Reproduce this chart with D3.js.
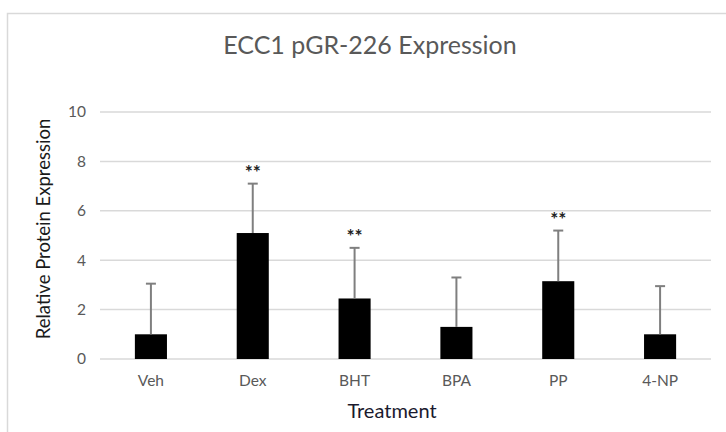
<!DOCTYPE html>
<html>
<head>
<meta charset="utf-8">
<script src="https://cdn.jsdelivr.net/npm/d3@7"></script>
<style>
  body { margin: 0; background: #fff; }
  svg { display: block; font-family: Lato, "Open Sans", sans-serif; }
</style>
</head>
<body>
<svg id="chart"></svg>
<script>
// data
const categories = ["Veh", "Dex", "BHT", "BPA", "PP", "4-NP"];
const means = [1.0, 5.1, 2.45, 1.3, 3.15, 1.0];
const errors = [2.05, 2.0, 2.05, 2.0, 2.05, 1.95];
const marks = ["", "**", "**", "", "**", ""];
const yTicks = [0, 2, 4, 6, 8, 10];

const width = 726;
const height = 432;

const svg = d3.select("#chart")
    .attr("width", width)
    .attr("height", height);

// chart area frame (only the left and top edges show)
svg.append("path")
    .attr("d", "M7.5,432 V13.5 H726")
    .attr("fill", "none")
    .attr("stroke", "#d9d9d9")
    .attr("stroke-width", 1.5);

const x = d3.scaleBand()
    .domain(categories)
    .range([100, 711])
    .paddingInner(0.685)
    .paddingOuter(0.3425);

const y = d3.scaleLinear()
    .domain([0, 10])
    .range([359, 112]);

// gridlines
svg.append("g")
    .selectAll("line")
    .data(yTicks)
    .enter()
    .append("line")
    .attr("x1", 100)
    .attr("x2", 711)
    .attr("y1", d => y(d))
    .attr("y2", d => y(d))
    .attr("stroke", "#d9d9d9")
    .attr("stroke-width", 1.5);

// y axis labels
const yAxis = svg.append("g")
    .attr("transform", "translate(100,0)")
    .call(d3.axisLeft(y).tickValues(yTicks).tickSize(0).tickPadding(14));
yAxis.select(".domain").remove();
yAxis.selectAll("text")
    .attr("fill", "#595959")
    .style("font-size", "15.5px")
    .style("font-family", "Lato, sans-serif");

// x axis labels
const xAxis = svg.append("g")
    .attr("transform", "translate(0,359)")
    .call(d3.axisBottom(x).tickSize(0).tickPadding(16));
xAxis.select(".domain").remove();
xAxis.selectAll("text")
    .attr("fill", "#595959")
    .style("font-size", "15.5px")
    .style("font-family", "Lato, sans-serif");

const rows = categories.map((c, i) => ({ cat: c, mean: means[i], err: errors[i], mark: marks[i] }));

// bars
svg.append("g")
    .selectAll("rect")
    .data(rows)
    .enter()
    .append("rect")
    .attr("x", d => x(d.cat))
    .attr("y", d => y(d.mean))
    .attr("width", x.bandwidth())
    .attr("height", d => y(0) - y(d.mean))
    .attr("fill", "#000");

// error bars (upper only)
const err = svg.append("g")
    .attr("stroke", "#7f7f7f")
    .attr("stroke-width", 2);

err.selectAll(".stem")
    .data(rows)
    .enter()
    .append("line")
    .attr("class", "stem")
    .attr("x1", d => x(d.cat) + x.bandwidth() / 2)
    .attr("x2", d => x(d.cat) + x.bandwidth() / 2)
    .attr("y1", d => y(d.mean))
    .attr("y2", d => y(d.mean + d.err));

err.selectAll(".cap")
    .data(rows)
    .enter()
    .append("line")
    .attr("class", "cap")
    .attr("x1", d => x(d.cat) + x.bandwidth() / 2 - 5)
    .attr("x2", d => x(d.cat) + x.bandwidth() / 2 + 5)
    .attr("y1", d => y(d.mean + d.err))
    .attr("y2", d => y(d.mean + d.err));

// significance marks
svg.append("g")
    .selectAll("text")
    .data(rows.filter(d => d.mark))
    .enter()
    .append("text")
    .attr("x", d => x(d.cat) + x.bandwidth() / 2)
    .attr("y", d => y(d.mean + d.err) - 5)
    .attr("text-anchor", "middle")
    .attr("fill", "#222")
    .style("font-size", "19px")
    .style("font-weight", "bold")
    .text(d => d.mark);

// titles
svg.append("text")
    .attr("x", 370)
    .attr("y", 54)
    .attr("text-anchor", "middle")
    .attr("fill", "#595959")
    .style("font-size", "25px")
    .text("ECC1 pGR-226 Expression");

svg.append("text")
    .attr("x", 392)
    .attr("y", 418)
    .attr("text-anchor", "middle")
    .attr("fill", "#1a1a2e")
    .style("font-size", "20px")
    .text("Treatment");

svg.append("text")
    .attr("transform", "translate(50,229) rotate(-90)")
    .attr("text-anchor", "middle")
    .attr("fill", "#1a1a1a")
    .style("font-size", "18.5px")
    .text("Relative Protein Expression");
</script>
</body>
</html>
